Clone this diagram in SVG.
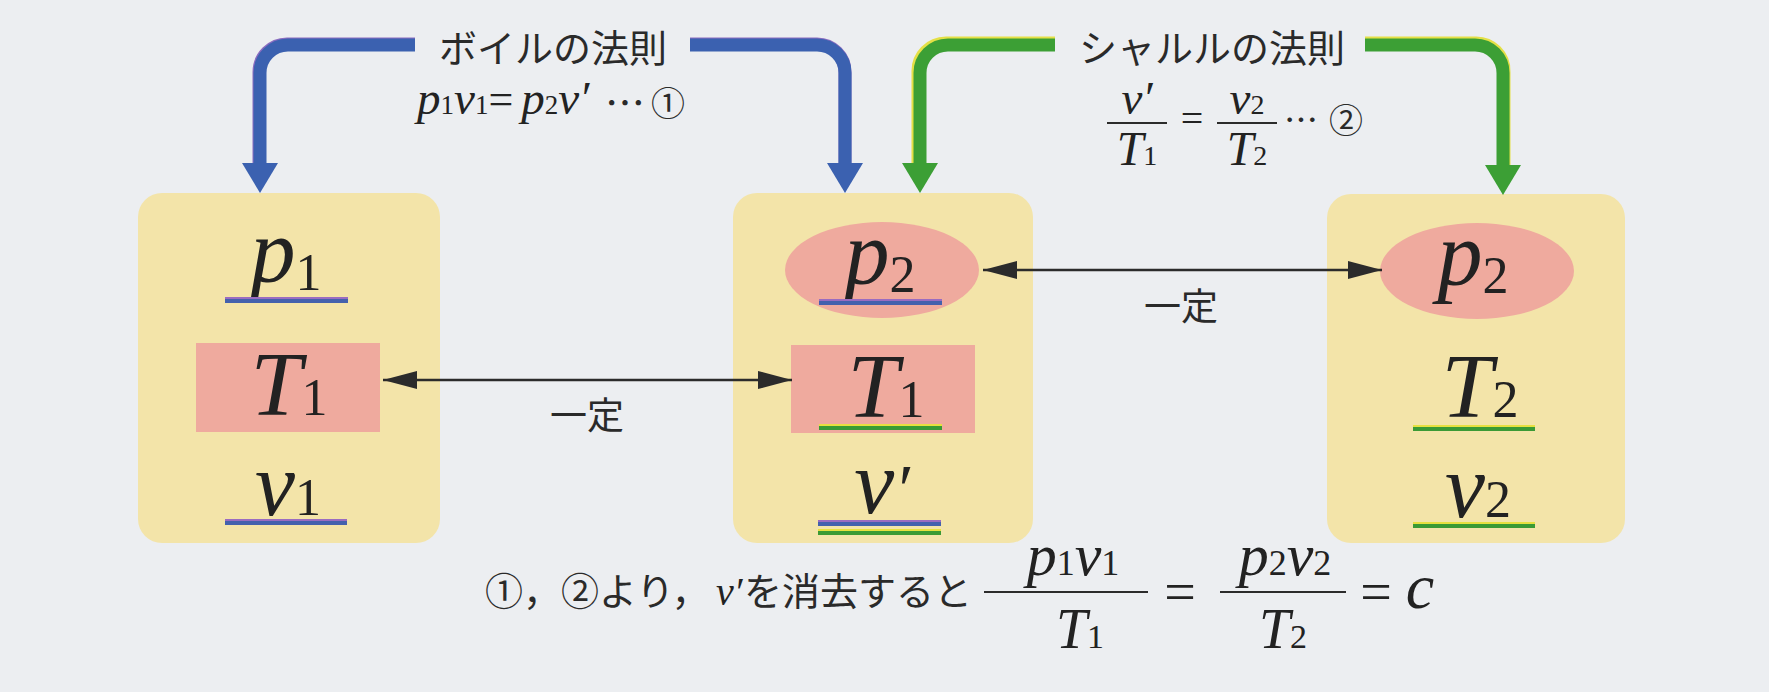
<svg xmlns="http://www.w3.org/2000/svg" width="1769" height="692" viewBox="0 0 1769 692">
<style>
.bg{fill:#eceef1}
.box{fill:#f3e4a9}
.pink{fill:#efaa9e}
.m{font-family:"Liberation Serif","Times New Roman",serif;font-style:italic;fill:#222}
.r{font-style:normal}
.cjk{font-family:"Noto Sans CJK JP",sans-serif;fill:#2a2a2a}
.blue{fill:none;stroke:#3b61b0;stroke-width:13}
.blueE{fill:none;stroke:#8a6cc0;stroke-width:13}
.green{fill:none;stroke:#3c9f35;stroke-width:13}
.greenE{fill:none;stroke:#e4e046;stroke-width:13}
.bh{fill:#3b61b0}
.gh{fill:#3c9f35}
.ub{stroke:#4461ad;stroke-width:4}
.ubE{stroke:#9a6cc0;stroke-width:2}
.ug{stroke:#3a9a35;stroke-width:4}
.ugE{stroke:#e6e040;stroke-width:2}
.blk{stroke:#2b2b2b;stroke-width:2.5;fill:none}
.frac{stroke:#2b2b2b;stroke-width:2}
</style>
<defs>
<marker id="ah" viewBox="0 0 34 18" refX="34" refY="9" markerWidth="34" markerHeight="18" markerUnits="userSpaceOnUse" orient="auto-start-reverse">
<path d="M0,0 L34,9 L0,18 Z" fill="#2b2b2b"/>
</marker>
</defs>
<rect class="bg" x="0" y="0" width="1769" height="692"/>

<g id="node-state1">
<rect class="box" x="138" y="193" width="302" height="350" rx="24"/>
<text class="m" x="286" y="282" font-size="90" text-anchor="middle">p<tspan class="r" dy="8" font-size="52">1</tspan></text>
<line class="ub" x1="225" y1="301" x2="348" y2="301"/>
<line class="ubE" x1="225" y1="298" x2="348" y2="298"/>
<rect class="pink" x="196" y="343" width="184" height="89"/>
<text class="m" x="289" y="415" font-size="92" text-anchor="middle">T<tspan class="r" font-size="52">1</tspan></text>
<text class="m" x="288" y="515" font-size="90" text-anchor="middle">v<tspan class="r" font-size="52">1</tspan></text>
<line class="ub" x1="225" y1="523" x2="347" y2="523"/>
<line class="ubE" x1="225" y1="520" x2="347" y2="520"/>
</g>

<g id="node-state2">
<rect class="box" x="733" y="193" width="300" height="350" rx="24"/>
<ellipse class="pink" cx="882" cy="270" rx="97" ry="48"/>
<text class="m" x="880" y="284" font-size="90" text-anchor="middle">p<tspan class="r" dy="8" font-size="52">2</tspan></text>
<line class="ub" x1="819" y1="303" x2="942" y2="303"/>
<line class="ubE" x1="819" y1="300" x2="942" y2="300"/>
<rect class="pink" x="791" y="345" width="184" height="88"/>
<text class="m" x="886" y="417" font-size="92" text-anchor="middle">T<tspan class="r" font-size="52">1</tspan></text>
<line class="ug" x1="819" y1="428" x2="942" y2="428"/>
<line class="ugE" x1="819" y1="425" x2="942" y2="425"/>
<text class="m" x="882" y="513" font-size="90" text-anchor="middle">v<tspan font-size="70">′</tspan></text>
<line class="ub" x1="818" y1="524" x2="941" y2="524"/>
<line class="ubE" x1="818" y1="521" x2="941" y2="521"/>
<line class="ug" x1="818" y1="533" x2="941" y2="533"/>
<line class="ugE" x1="818" y1="530" x2="941" y2="530"/>
</g>

<g id="node-state3">
<rect class="box" x="1327" y="194" width="298" height="349" rx="24"/>
<ellipse class="pink" cx="1477" cy="271" rx="97" ry="48"/>
<text class="m" x="1473" y="285" font-size="90" text-anchor="middle">p<tspan class="r" dy="8" font-size="52">2</tspan></text>
<text class="m" x="1480" y="417" font-size="92" text-anchor="middle">T<tspan class="r" font-size="52">2</tspan></text>
<line class="ug" x1="1413" y1="429" x2="1535" y2="429"/>
<line class="ugE" x1="1413" y1="426" x2="1535" y2="426"/>
<text class="m" x="1478" y="517" font-size="90" text-anchor="middle">v<tspan class="r" font-size="52">2</tspan></text>
<line class="ug" x1="1413" y1="526" x2="1535" y2="526"/>
<line class="ugE" x1="1413" y1="523" x2="1535" y2="523"/>
</g>

<g id="connectors">
<g id="boyle-arrows">
<path class="blueE" d="M259 165 V72 A28 28 0 0 1 287 44 H415"/>
<path class="blueE" d="M690 44 H817 A28 28 0 0 1 845 72 V165"/>
<path class="blue" d="M260 165 V73 A28 28 0 0 1 288 45 H415"/>
<path class="blue" d="M690 45 H817 A28 28 0 0 1 845 73 V165"/>
<polygon class="bh" points="242,163 278,163 260,193"/>
<polygon class="bh" points="827,163 863,163 845,193"/>
</g>
<g id="charles-arrows">
<path class="greenE" d="M918 165 V72 A28 28 0 0 1 946 43 H1055"/>
<path class="greenE" d="M1365 43 H1475 A28 28 0 0 1 1504 72 V167"/>
<path class="green" d="M920 165 V73 A28 28 0 0 1 948 45 H1055"/>
<path class="green" d="M1365 45 H1475 A28 28 0 0 1 1503 73 V167"/>
<polygon class="gh" points="902,163 938,163 920,193"/>
<polygon class="gh" points="1485,165 1521,165 1503,195"/>
</g>
<line class="blk" x1="383" y1="380" x2="792" y2="380" marker-start="url(#ah)" marker-end="url(#ah)"/>
<line class="blk" x1="983" y1="270" x2="1382" y2="270" marker-start="url(#ah)" marker-end="url(#ah)"/>
<text class="cjk" x="587" y="429" font-size="37" text-anchor="middle">一定</text>
<text class="cjk" x="1181" y="320" font-size="37" text-anchor="middle">一定</text>
</g>

<g id="label-boyle">
<text class="cjk" x="553" y="62" font-size="38" text-anchor="middle">ボイルの法則</text>
<text class="m" x="417" y="114" font-size="47">p<tspan class="r" font-size="27">1</tspan>v<tspan class="r" font-size="27">1</tspan><tspan class="r" font-size="44">=</tspan><tspan dx="8">p</tspan><tspan class="r" font-size="27">2</tspan>v′</text>
<text class="cjk" x="605" y="118" font-size="40">…</text>
<text class="cjk" x="651" y="116" font-size="34">①</text>
</g>

<g id="label-charles">
<text class="cjk" x="1212" y="62" font-size="38" text-anchor="middle">シャルルの法則</text>
<text class="m" x="1137" y="114" font-size="47" text-anchor="middle">v′</text>
<line class="frac" x1="1107" y1="123" x2="1167" y2="123"/>
<text class="m" x="1137" y="165" font-size="48" text-anchor="middle">T<tspan class="r" font-size="28">1</tspan></text>
<text class="m r" x="1192" y="132" font-size="40" text-anchor="middle">=</text>
<text class="m" x="1247" y="114" font-size="47" text-anchor="middle">v<tspan class="r" font-size="28">2</tspan></text>
<line class="frac" x1="1217" y1="123" x2="1277" y2="123"/>
<text class="m" x="1247" y="165" font-size="48" text-anchor="middle">T<tspan class="r" font-size="28">2</tspan></text>
<text class="cjk" y="133" font-size="34"><tspan x="1284">…</tspan><tspan x="1329">②</tspan></text>
</g>

<g id="conclusion">
<text class="cjk" y="605" font-size="38"><tspan x="485">①，②より，</tspan><tspan class="m" x="716" font-size="40">v′</tspan><tspan x="744">を消去すると</tspan></text>
<text class="m" x="1073" y="575" font-size="60" text-anchor="middle">p<tspan class="r" font-size="36">1</tspan>v<tspan class="r" font-size="36">1</tspan></text>
<line class="frac" x1="984" y1="592" x2="1148" y2="592"/>
<text class="m" x="1080" y="648" font-size="56" text-anchor="middle">T<tspan class="r" font-size="34">1</tspan></text>
<text class="m r" x="1180" y="611" font-size="56" text-anchor="middle">=</text>
<text class="m" x="1285" y="575" font-size="60" text-anchor="middle">p<tspan class="r" font-size="36">2</tspan>v<tspan class="r" font-size="36">2</tspan></text>
<line class="frac" x1="1220" y1="592" x2="1346" y2="592"/>
<text class="m" x="1283" y="648" font-size="56" text-anchor="middle">T<tspan class="r" font-size="34">2</tspan></text>
<text class="m r" x="1376" y="611" font-size="56" text-anchor="middle">=</text>
<text class="m" x="1420" y="608" font-size="64" text-anchor="middle">c</text>
</g>
</svg>
